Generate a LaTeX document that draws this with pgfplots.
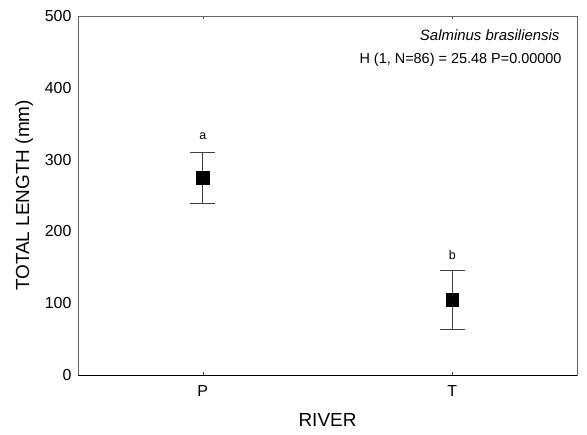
\documentclass[border=0pt]{standalone}
\usepackage{pgfplots}
\pgfplotsset{compat=1.18}
\usepackage{fontspec}
\setmainfont{Liberation Sans}
\begin{document}
\begin{tikzpicture}
\path[use as bounding box] (-78bp,-60bp) rectangle (509bp,375bp);
\begin{axis}[
  scale only axis,
  width=499bp, height=359bp,
  at={(0,0)}, anchor=south west,
  xmin=0.5, xmax=2.5,
  ymin=0, ymax=500,
  xtick={1,2}, xticklabels={P,T},
  ytick={0,100,200,300,400,500},
  /pgf/number format/assume math mode=true,
  tick label style={font=\fontsize{16}{19}\selectfont},
  xticklabel style={anchor=center, yshift=-16bp},
  yticklabel style={xshift=-3bp},
  label style={font=\fontsize{19}{22}\selectfont},
  xlabel={RIVER}, ylabel={TOTAL LENGTH (mm)},
  xlabel style={at={(axis description cs:0.5,-0.125)}, anchor=center},
  ylabel style={at={(axis description cs:-0.108,0.5)}, anchor=center},
  axis line style={draw=black!60},
  tick align=inside,
  major tick length=3bp,
  ytick style={draw=none},
  xtick style={black!70},
  clip=false,
]
\addplot[only marks, mark=square*, mark size=6.3bp, mark options={fill=black, draw=black},
  error bars/.cd, y dir=both, y explicit,
  error mark options={rotate=90, mark size=12.5bp, line width=0.8pt, draw=black!75},
  error bar style={line width=0.8pt, draw=black!75}]
  coordinates {
    (1,275) +- (0,35.5)
    (2,105) +- (0,41)
  };
\draw[black, line width=0.8pt] (rel axis cs:0,0) -- (rel axis cs:1,0);
\node[font=\fontsize{12.5}{15}\selectfont] at (axis cs:1,333) {a};
\node[font=\fontsize{12.5}{15}\selectfont] at (axis cs:2,167) {b};
\node[anchor=east, font=\fontsize{15}{18}\selectfont\itshape] at (rel axis cs:0.972,0.946) {Salminus brasiliensis};
\node[anchor=east, font=\fontsize{14.5}{17}\selectfont] at (rel axis cs:0.976,0.878) {H (1, N=86) = 25.48 P=0.00000};
\end{axis}
\end{tikzpicture}
\end{document}
